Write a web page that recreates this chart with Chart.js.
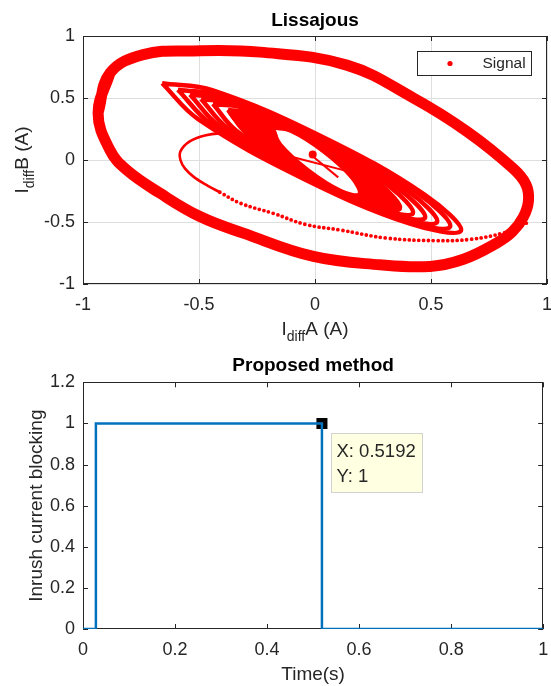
<!DOCTYPE html>
<html>
<head>
<meta charset="utf-8">
<script src="https://cdn.jsdelivr.net/npm/chart.js@4.4.1/dist/chart.umd.min.js"></script>
<style>
   html, body { margin: 0; padding: 0; background: #fff; }
   #wrap { position: relative; width: 551px; height: 686px; }
   canvas { position: absolute; left: 0; }
   #lissajous { top: 0; }
   #blocking { top: 345px; }
</style>
</head>
<body>
<div id="wrap">
   <canvas id="lissajous" width="551" height="345"></canvas>
   <canvas id="blocking" width="551" height="341"></canvas>
</div>
<script>
// ---- Lissajous data (Idiff A, Idiff B) ----
// big outer ellipse (many turns drawn as one thick band)
const outerBandX = [-0.935, -0.884, -0.74, -0.525, -0.237, 0.137, 0.424, 0.655, 0.855, 0.91, 0.92, 0.898, 0.85, 0.783, 0.64, 0.496, 0.28, -0.007, -0.309, -0.496, -0.668, -0.812, -0.884, -0.935, -0.884];
const outerBandY = [0.38, 0.70, 0.85, 0.88, 0.87, 0.765, 0.50, 0.23, -0.07, -0.20, -0.33, -0.46, -0.58, -0.67, -0.80, -0.858, -0.845, -0.778, -0.59, -0.456, -0.268, -0.08, 0.08, 0.38, 0.70];

// nested inner loops, outermost first (tip, upper side, tip, lower side, tip)
const innerLoopX = [
   [-0.659, -0.440, 0.029, 0.472, 0.629, 0.409, -0.059, -0.502, -0.659],
   [-0.591, -0.389, 0.038, 0.441, 0.582, 0.380, -0.047, -0.449, -0.591],
   [-0.539, -0.354, 0.034, 0.399, 0.526, 0.341, -0.047, -0.412, -0.539],
   [-0.491, -0.323, 0.030, 0.360, 0.474, 0.306, -0.047, -0.377, -0.491],
   [-0.440, -0.288, 0.028, 0.322, 0.422, 0.270, -0.045, -0.339, -0.440],
   [-0.375, -0.242, 0.030, 0.282, 0.366, 0.234, -0.039, -0.291, -0.375]
];
const innerLoopY = [
   [0.619, 0.562, 0.190, -0.279, -0.571, -0.514, -0.142, 0.327, 0.619],
   [0.567, 0.516, 0.172, -0.265, -0.539, -0.489, -0.144, 0.293, 0.567],
   [0.528, 0.480, 0.159, -0.247, -0.501, -0.455, -0.134, 0.273, 0.528],
   [0.492, 0.447, 0.148, -0.231, -0.467, -0.421, -0.122, 0.257, 0.492],
   [0.453, 0.411, 0.134, -0.215, -0.431, -0.390, -0.113, 0.236, 0.453],
   [0.404, 0.365, 0.117, -0.198, -0.393, -0.356, -0.107, 0.208, 0.404]
];
// white "eye" in the middle of the dense turns
const eyeLoopX = [-0.181, -0.104, 0.036, 0.158, 0.190, 0.113, -0.027, -0.149, -0.181];
const eyeLoopY = [0.257, 0.233, 0.068, -0.142, -0.274, -0.249, -0.084, 0.126, 0.257];

// transition: thin loop on the left, then sparse dots to the outer band
const thinLoopX = [-0.38, -0.47, -0.54, -0.58, -0.58, -0.56, -0.52, -0.46, -0.41];
const thinLoopY = [0.22, 0.20, 0.15, 0.07, 0.0, -0.07, -0.14, -0.21, -0.26];
const dotTailX = [-0.41, -0.32, -0.18, -0.04, 0.11, 0.31, 0.52, 0.67, 0.81, 0.88, 0.92];
const dotTailY = [-0.26, -0.35, -0.43, -0.52, -0.565, -0.63, -0.65, -0.64, -0.59, -0.54, -0.50];

// start of the signal, inside the eye
const crossAX = [-0.11, 0.16];
const crossAY = [0.03, -0.10];
const crossBX = [-0.01, 0.10];
const crossBY = [0.03, -0.14];
const blobX = [-0.01];
const blobY = [0.045];

const lissTicks = [-1, -0.5, 0, 0.5, 1];

// ---- Proposed method data ----
const timeS = [0, 0.028, 0.028, 0.5192, 0.5192, 1];
const blocking = [0, 0, 1, 1, 0, 0];
const tipTime = 0.5192;
const tipValue = 1;
const timeTicks = [0, 0.2, 0.4, 0.6, 0.8, 1];
const blockTicks = [0, 0.2, 0.4, 0.6, 0.8, 1, 1.2];

const RED = '#ff0000';
const BLUE = '#0072bd';
const AXIS = '#262626';
const FONT = "'Liberation Sans', Arial, Helvetica, sans-serif";

const pts = (xs, ys) => xs.map((x, i) => ({ x, y: ys[i] }));

// text with "_sub" parts, centred on (0,0)
function drawRich(ctx, parts, size) {
   const main = size + 'px ' + FONT;
   const sub = Math.round(size * 0.72) + 'px ' + FONT;
   const widths = parts.map(p => {
      ctx.font = p[0] === '_' ? sub : main;
      return ctx.measureText(p[0] === '_' ? p.slice(1) : p).width;
   });
   let x = -widths.reduce((a, b) => a + b, 0) / 2;
   ctx.textAlign = 'left';
   ctx.textBaseline = 'alphabetic';
   parts.forEach((p, i) => {
      const isSub = p[0] === '_';
      ctx.font = isSub ? sub : main;
      ctx.fillText(isSub ? p.slice(1) : p, x, size * 0.36 + (isSub ? size * 0.3 : 0));
      x += widths[i];
   });
}

// matlab look: full box, inward ticks on all sides, axis titles with subscripts
const matlabAxes = {
   id: 'matlabAxes',
   beforeDatasetsDraw(chart, args, o) {
      const { ctx, chartArea: a } = chart;
      const sx = chart.scales.x, sy = chart.scales.y;
      const len = 5;
      ctx.save();
      ctx.strokeStyle = AXIS;
      ctx.lineWidth = 1;
      ctx.beginPath();
      sx.ticks.forEach(t => {
         const p = Math.round(sx.getPixelForValue(t.value)) + 0.5;
         ctx.moveTo(p, a.bottom); ctx.lineTo(p, a.bottom - len);
         ctx.moveTo(p, a.top); ctx.lineTo(p, a.top + len);
      });
      sy.ticks.forEach(t => {
         const p = Math.round(sy.getPixelForValue(t.value)) + 0.5;
         ctx.moveTo(a.left, p); ctx.lineTo(a.left + len, p);
         ctx.moveTo(a.right, p); ctx.lineTo(a.right - len, p);
      });
      ctx.stroke();
      ctx.strokeRect(Math.round(a.left) + 0.5, Math.round(a.top) + 0.5,
         Math.round(a.right - a.left) - 1, Math.round(a.bottom - a.top) - 1);
      ctx.restore();
   },
   afterDraw(chart, args, o) {
      const { ctx, chartArea: a } = chart;
      ctx.save();
      ctx.fillStyle = AXIS;
      ctx.translate((a.left + a.right) / 2, o.xTitleY);
      drawRich(ctx, o.xTitle, o.size);
      ctx.restore();
      ctx.save();
      ctx.fillStyle = AXIS;
      ctx.translate(o.yTitleX, (a.top + a.bottom) / 2);
      ctx.rotate(-Math.PI / 2);
      drawRich(ctx, o.yTitle, o.size);
      ctx.restore();
   }
};

// boxed legend in the upper right corner
const signalLegend = {
   id: 'signalLegend',
   afterDatasetsDraw(chart) {
      const { ctx, chartArea: a } = chart;
      const w = 114, h = 24;
      const x0 = Math.round(a.right - 16 - w) + 0.5;
      const y0 = Math.round(a.top + 15) + 0.5;
      const ds = chart.data.datasets[0];
      ctx.save();
      ctx.fillStyle = '#fff';
      ctx.fillRect(x0, y0, w, h);
      ctx.strokeStyle = AXIS;
      ctx.lineWidth = 1;
      ctx.strokeRect(x0, y0, w, h);
      ctx.fillStyle = ds.borderColor;
      ctx.beginPath();
      ctx.arc(x0 + 32.5, y0 + h / 2, 2.6, 0, Math.PI * 2);
      ctx.fill();
      ctx.fillStyle = AXIS;
      ctx.font = '15.5px ' + FONT;
      ctx.textBaseline = 'middle';
      ctx.fillText(ds.label, x0 + 65, y0 + h / 2 + 0.5);
      ctx.restore();
   }
};

// data tip next to the black marker
const dataTip = {
   id: 'dataTip',
   afterDatasetsDraw(chart) {
      const { ctx } = chart;
      const px = chart.scales.x.getPixelForValue(tipTime);
      const py = chart.scales.y.getPixelForValue(tipValue);
      const bx = Math.round(px + 9.5) + 0.5, by = Math.round(py + 9.5) + 0.5;
      ctx.save();
      ctx.fillStyle = '#ffffe1';
      ctx.fillRect(bx, by, 91, 59);
      ctx.strokeStyle = '#d2d2d2';
      ctx.lineWidth = 1;
      ctx.strokeRect(bx, by, 91, 59);
      ctx.fillStyle = AXIS;
      ctx.font = '18.5px ' + FONT;
      ctx.textBaseline = 'middle';
      ctx.textAlign = 'left';
      ctx.fillText('X: ' + tipTime, bx + 5, by + 18);
      ctx.fillText('Y: ' + tipValue, bx + 5, by + 43);
      ctx.restore();
   }
};

const redLine = (xs, ys, width, extra) => Object.assign({
   data: pts(xs, ys),
   showLine: true,
   borderColor: RED,
   backgroundColor: RED,
   borderWidth: width,
   pointRadius: 0,
   tension: 0.38,
   fill: false,
}, extra || {});

// solid region between the 6th turn and the eye (eye walked backwards makes the hole)
const coreX = innerLoopX[5].concat(eyeLoopX.slice().reverse(), [innerLoopX[5][0]]);
const coreY = innerLoopY[5].concat(eyeLoopY.slice().reverse(), [innerLoopY[5][0]]);

const tickFont = { family: FONT, size: 18 };

const axis = (min, max, list, grid, fit, pad) => ({
   type: 'linear',
   min: min,
   max: max,
   afterBuildTicks: s => { s.ticks = list.map(v => ({ value: v })); },
   afterFit: s => {
      fit(s);
      s.paddingLeft = 0; s.paddingRight = 0;
      s.paddingTop = 0; s.paddingBottom = 0;
   },
   grid: grid ? { color: '#dedede', drawTicks: false } : { display: false, drawTicks: false },
   border: { display: false },
   ticks: {
      color: AXIS,
      font: tickFont,
      padding: pad,
      maxRotation: 0,
      callback: v => String(v),
   },
});

const titleOpts = (text, padTop, padBottom) => ({
   display: true,
   fullSize: false,
   text: text,
   color: '#000',
   font: { family: FONT, size: 19, weight: 'bold' },
   padding: { top: padTop, bottom: padBottom },
});

new Chart(document.getElementById('lissajous'), {
   type: 'scatter',
   data: {
      datasets: [
         redLine(outerBandX, outerBandY, 11, { label: 'Signal', tension: 0.4 }),
         redLine(coreX, coreY, 1, { fill: 'shape' }),
         ...innerLoopX.map((xs, i) => redLine(xs, innerLoopY[i], 4.5)),
         redLine(eyeLoopX, eyeLoopY, 3.5),
         redLine(thinLoopX, thinLoopY, 2.6, { tension: 0.4 }),
         redLine(dotTailX, dotTailY, 3.8, { tension: 0.4, borderDash: [0, 4.8], borderCapStyle: 'round' }),
         redLine(crossAX, crossAY, 2, { tension: 0 }),
         redLine(crossBX, crossBY, 2, { tension: 0 }),
         { data: pts(blobX, blobY), showLine: false, pointRadius: 4, backgroundColor: RED, borderWidth: 0 },
      ],
   },
   options: {
      responsive: false,
      animation: false,
      layout: { padding: { left: 0, right: 4, top: 0, bottom: 0 } },
      scales: {
         x: axis(-1, 1, lissTicks, true, s => { s.height = 61; }, 10),
         y: axis(-1, 1, lissTicks, true, s => { s.width = 83; }, 8),
      },
      plugins: {
         legend: { display: false },
         tooltip: { enabled: false },
         title: titleOpts('Lissajous', 9, 4.2),
         matlabAxes: { xTitle: ['I', '_diff', 'A (A)'], yTitle: ['I', '_diff', 'B (A)'], xTitleY: 328, yTitleX: 21, size: 19 },
      },
   },
   plugins: [matlabAxes, signalLegend],
});

new Chart(document.getElementById('blocking'), {
   type: 'scatter',
   data: {
      datasets: [
         {
            label: 'Inrush current blocking',
            data: pts(timeS, blocking),
            showLine: true,
            borderColor: BLUE,
            borderWidth: 2.5,
            pointRadius: 0,
            tension: 0,
            fill: false,
         },
         {
            data: [{ x: tipTime, y: tipValue }],
            showLine: false,
            pointStyle: 'rect',
            pointRadius: 7.8,
            backgroundColor: '#000',
            borderWidth: 0,
         },
      ],
   },
   options: {
      responsive: false,
      animation: false,
      layout: { padding: { left: 0, right: 4, top: 0, bottom: 0 } },
      scales: {
         x: axis(0, 1, timeTicks, false, s => { s.height = 57; }, 10),
         y: axis(0, 1.2, blockTicks, false, s => { s.width = 83; }, 8),
      },
      plugins: {
         legend: { display: false },
         tooltip: { enabled: false },
         title: titleOpts('Proposed method', 9, 5.5),
         matlabAxes: { xTitle: ['Time(s)'], yTitle: ['Inrush current blocking'], xTitleY: 328, yTitleX: 35, size: 19 },
      },
   },
   plugins: [matlabAxes, dataTip],
});
</script>
</body>
</html>
